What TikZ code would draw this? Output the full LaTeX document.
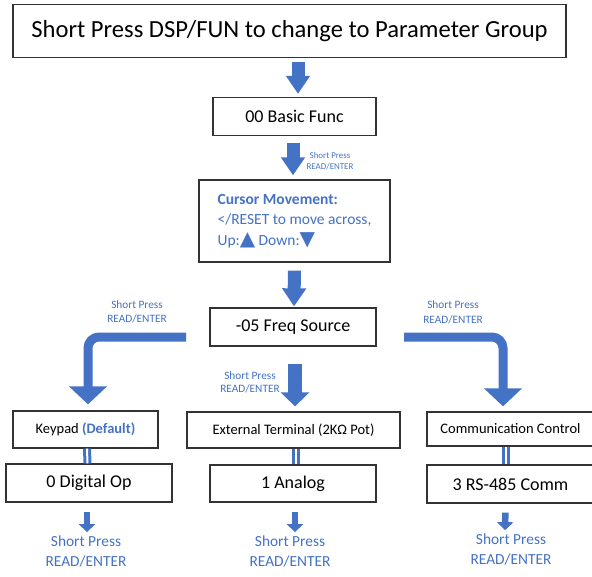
\documentclass[tikz,border=0pt]{standalone}
\usepackage{fontspec}
\setmainfont{Carlito}
\newfontfamily\symfont{DejaVu Sans}
\usetikzlibrary{arrows.meta}

\definecolor{flowblue}{HTML}{4472C4}
\newcommand{\fsz}[2]{\fontsize{#1}{#2}\selectfont}

\tikzset{
  box/.style={draw=black!80, line width=1.3pt, fill=white, inner sep=0pt},
  bigarrow/.style={flowblue, line width=13pt, -{Triangle[width=23pt,length=18pt]}},
  sidearrow/.style={flowblue, line width=9pt, rounded corners=11pt, -{Triangle[width=37pt,length=18pt]}},
  smallarrow/.style={flowblue, line width=6.5pt, -{Triangle[width=16pt,length=8pt]}},
  eqline/.style={flowblue, double=white, double distance=2pt, line width=3pt},
  presslabel/.style={text=flowblue, align=center, inner sep=0pt},
}

\begin{document}
\begin{tikzpicture}[x=1pt,y=-1pt]
  \useasboundingbox (0,0) rectangle (592,576);

  \node[box, minimum width=553, minimum height=53, font=\fsz{24.6}{28}] (title) at (289.5,31) {Short Press DSP/FUN to change to Parameter Group};
  \node[box, minimum width=163, minimum height=38, font=\fsz{18}{22}] (basic) at (294.5,116.5) {00 Basic Func};
  \node[box, minimum width=191, minimum height=82, align=left,
        text=flowblue, font=\fsz{15.5}{20.5}] (cursor) at (294.5,221)
        {\textbf{Cursor Movement:}\\</RESET to move across,\\Up:{\symfont\fsz{20}{20}▲} Down:{\symfont\fsz{20}{20}▼}};
  \node[box, minimum width=166, minimum height=38, font=\fsz{18}{22}] (freq) at (293,327) {-05 Freq Source};

  \node[box, minimum width=145, minimum height=37, font=\fsz{14.5}{18}] (keypad) at (85.5,429.5) {Keypad \textcolor{flowblue}{\textbf{(Default)}}};
  \node[box, minimum width=213, minimum height=36, font=\fsz{14.5}{18}] (ext) at (293.5,430) {External Terminal (2KΩ Pot)};
  \node[box, minimum width=167, minimum height=34, font=\fsz{14.5}{18}] (comm) at (510.5,429) {Communication Control};

  \node[box, minimum width=166, minimum height=38, font=\fsz{18}{22}] (digital) at (89,483) {0 Digital Op};
  \node[box, minimum width=166, minimum height=37, font=\fsz{18}{22}] (analog) at (293,483.5) {1 Analog};
  \node[box, minimum width=167, minimum height=38, font=\fsz{18}{22}] (rs) at (510.5,484) {3 RS-485 Comm};

  \node[presslabel, font=\fsz{8.9}{11.5}] (lblb) at (330,161) {Short Press\\READ/ENTER};
  \node[presslabel, font=\fsz{11.3}{14.5}] (lbll) at (137,312) {Short Press\\READ/ENTER};
  \node[presslabel, font=\fsz{11.3}{14.5}] (lblr) at (453,312.5) {Short Press\\READ/ENTER};
  \node[presslabel, font=\fsz{11.3}{13.5}] (lblm) at (250,382.5) {Short Press\\READ/ENTER};
  \node[presslabel, font=\fsz{15.4}{20}] (outl) at (86,551) {Short Press\\READ/ENTER};
  \node[presslabel, font=\fsz{15.4}{20}] (outm) at (290,551) {Short Press\\READ/ENTER};
  \node[presslabel, font=\fsz{15.4}{20}] (outr) at (511,549) {Short Press\\READ/ENTER};

  \coordinate (lstart) at (186,337);
  \coordinate (rstart) at (404,337);

  \draw[bigarrow, shorten <=4pt, shorten >=3pt] ([xshift=8.5pt]title.south) -- ([xshift=3.5pt]basic.north);
  \draw[bigarrow, shorten <=7pt, shorten >=4pt] ([xshift=-1.5pt]basic.south) -- ([xshift=-1.5pt]cursor.north);
  \draw[bigarrow, shorten <=8pt, shorten >=1pt] (cursor.south) -- ([xshift=1pt]freq.north);
  \draw[bigarrow, -{Triangle[width=28pt,length=14pt]}, line width=14pt, shorten <=17pt, shorten >=5pt] ([xshift=2pt]freq.south) -- ([xshift=1.5pt]ext.north);
  \draw[sidearrow, shorten >=6pt] (lstart) -| ([xshift=2.5pt]keypad.north);
  \draw[sidearrow, shorten >=5pt] (rstart) -| ([xshift=-7.5pt]comm.north);

  \draw[eqline] ([xshift=1.5pt]keypad.south) -- ([xshift=-1.5pt]digital.north);
  \draw[eqline] ([xshift=2.5pt]ext.south) -- ([xshift=3pt]analog.north);
  \draw[eqline] ([xshift=-5pt]comm.south) -- ([xshift=-5pt]rs.north);

  \draw[smallarrow, shorten <=9pt, shorten >=3pt] ([xshift=-2pt]digital.south) -- ([xshift=1pt]outl.north);
  \draw[smallarrow, shorten <=9pt, shorten >=3pt] ([xshift=2pt]analog.south) -- ([xshift=5pt]outm.north);
  \draw[smallarrow, shorten <=9pt, shorten >=3pt] ([xshift=-5pt]rs.south) -- ([xshift=-6pt]outr.north);
\end{tikzpicture}
\end{document}
